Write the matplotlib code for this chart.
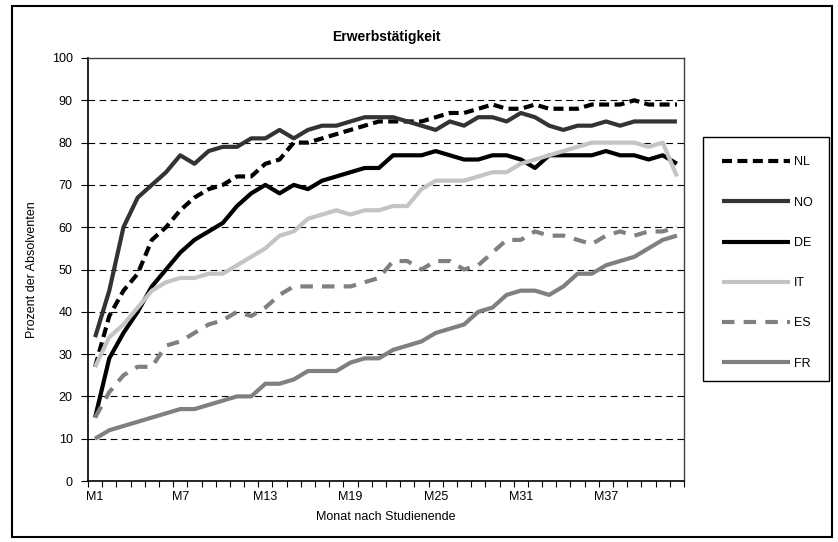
"""Erwerbstätigkeit nach Studienende — Linienchart (NL, NO, DE, IT, ES, FR)."""

import numpy as np
import matplotlib

matplotlib.use("Agg")
import matplotlib.pyplot as plt
from matplotlib.patches import Rectangle

plt.rcParams["font.family"] = ["Liberation Sans", "DejaVu Sans"]

months = [f"M{i}" for i in range(1, 43)]

nl = [27, 39, 45, 49, 57, 60, 64, 67, 69, 70, 72, 72, 75, 76, 80,
      80, 81, 82, 83, 84, 85, 85, 85, 85, 86, 87, 87,
      88, 89, 88, 88, 89, 88, 88, 88, 89, 89, 89, 90, 89, 89, 89]
no = [34, 45, 60, 67, 70, 73, 77, 75, 78, 79, 79, 81, 81, 83, 81,
      83, 84, 84, 85, 86, 86, 86, 85, 84, 83, 85, 84,
      86, 86, 85, 87, 86, 84, 83, 84, 84, 85, 84, 85, 85, 85, 85]
de = [15, 29, 35, 40, 46, 50, 54, 57, 59, 61, 65, 68, 70, 68, 70,
      69, 71, 72, 73, 74, 74, 77, 77, 77, 78, 77, 76,
      76, 77, 77, 76, 74, 77, 77, 77, 77, 78, 77, 77, 76, 77, 75]
it = [27, 34, 37, 41, 45, 47, 48, 48, 49, 49, 51, 53, 55, 58, 59,
      62, 63, 64, 63, 64, 64, 65, 65, 69, 71, 71, 71,
      72, 73, 73, 75, 76, 77, 78, 79, 80, 80, 80, 80, 79, 80, 72]
es = [15, 21, 25, 27, 27, 32, 33, 35, 37, 38, 40, 39, 41, 44, 46,
      46, 46, 46, 46, 47, 48, 52, 52, 50, 52, 52, 50,
      51, 54, 57, 57, 59, 58, 58, 57, 56, 58, 59, 58, 59, 59, 60]
fr = [10, 12, 13, 14, 15, 16, 17, 17, 18, 19, 20, 20, 23, 23, 24,
      26, 26, 26, 28, 29, 29, 31, 32, 33, 35, 36, 37,
      40, 41, 44, 45, 45, 44, 46, 49, 49, 51, 52, 53, 55, 57, 58]

series = [("NL", nl), ("NO", no), ("DE", de), ("IT", it), ("ES", es), ("FR", fr)]

styles = {
    "NL": dict(color="black", ls=(0, (2.4, 1.3))),
    "NO": dict(color="#333333", ls="-"),
    "DE": dict(color="black", ls="-"),
    "IT": dict(color="#c4c4c4", ls="-"),
    "ES": dict(color="#808080", ls=(0, (3.0, 2.2))),
    "FR": dict(color="#808080", ls="-"),
}


def main():
    W, H = 838, 542
    fig = plt.figure(figsize=(W / 100, H / 100), dpi=100)
    ax = fig.add_axes([88 / W, 1 - 481 / H, (684 - 88) / W, (481 - 58) / H])

    x = np.arange(len(months))
    for name, vals in series:
        st = styles[name]
        ax.plot(x, vals, color=st["color"], linestyle=st["ls"], lw=3.0,
                solid_capstyle="butt", dash_capstyle="butt", label=name, zorder=3)

    # gestrichelte Gitterlinien
    for yv in range(10, 100, 10):
        ax.axhline(yv, color="black", lw=0.8, ls=(0, (6, 4)), zorder=1)

    ax.set_xlim(-0.5, len(months) - 0.5)
    ax.set_ylim(0, 100)
    ax.set_yticks(range(0, 101, 10))
    ax.tick_params(axis="y", direction="out", length=5, width=0.8, labelsize=9, pad=6)

    ax.set_xticks(np.arange(-0.5, len(months), 1))
    ax.set_xticklabels([])
    ax.tick_params(axis="x", which="major", direction="out", length=4, width=0.8)
    lab_pos = x[::6]
    ax.set_xticks(lab_pos, minor=True)
    ax.set_xticklabels([months[i] for i in lab_pos], minor=True)
    ax.tick_params(axis="x", which="minor", length=0, labelsize=9, pad=7)

    for side in ("left", "bottom"):
        ax.spines[side].set_linewidth(1.2)
        ax.spines[side].set_color("black")
    for side in ("top", "right"):
        ax.spines[side].set_linewidth(1.0)
        ax.spines[side].set_color("#404040")

    ax.set_title("Erwerbstätigkeit", fontsize=10, fontweight="bold", pad=12)
    ax.set_xlabel("Monat nach Studienende", fontsize=9, labelpad=6)
    ax.set_ylabel("Prozent der Absolventen", fontsize=9, labelpad=10)

    # Legende mit eigenem Rahmen
    fig.legend(loc="upper left", bbox_to_anchor=(703 / W, 1 - 137 / H),
               fontsize=9, frameon=False, handlelength=5.4, handletextpad=0.3,
               labelspacing=2.26, borderpad=1.55, borderaxespad=0)
    fig.patches.append(Rectangle((703 / W, 1 - 381 / H), (829 - 703) / W, (381 - 137) / H,
                                 transform=fig.transFigure, fill=False,
                                 edgecolor="black", lw=1.0))

    # Rahmen um das Diagramm
    fig.patches.append(Rectangle((12 / W, 5 / H), (832 - 12) / W, (536 - 5) / H,
                                 transform=fig.transFigure, fill=False,
                                 edgecolor="black", lw=1.5))

    fig.savefig("out.png", dpi=100)
    plt.close(fig)


if __name__ == "__main__":
    main()
